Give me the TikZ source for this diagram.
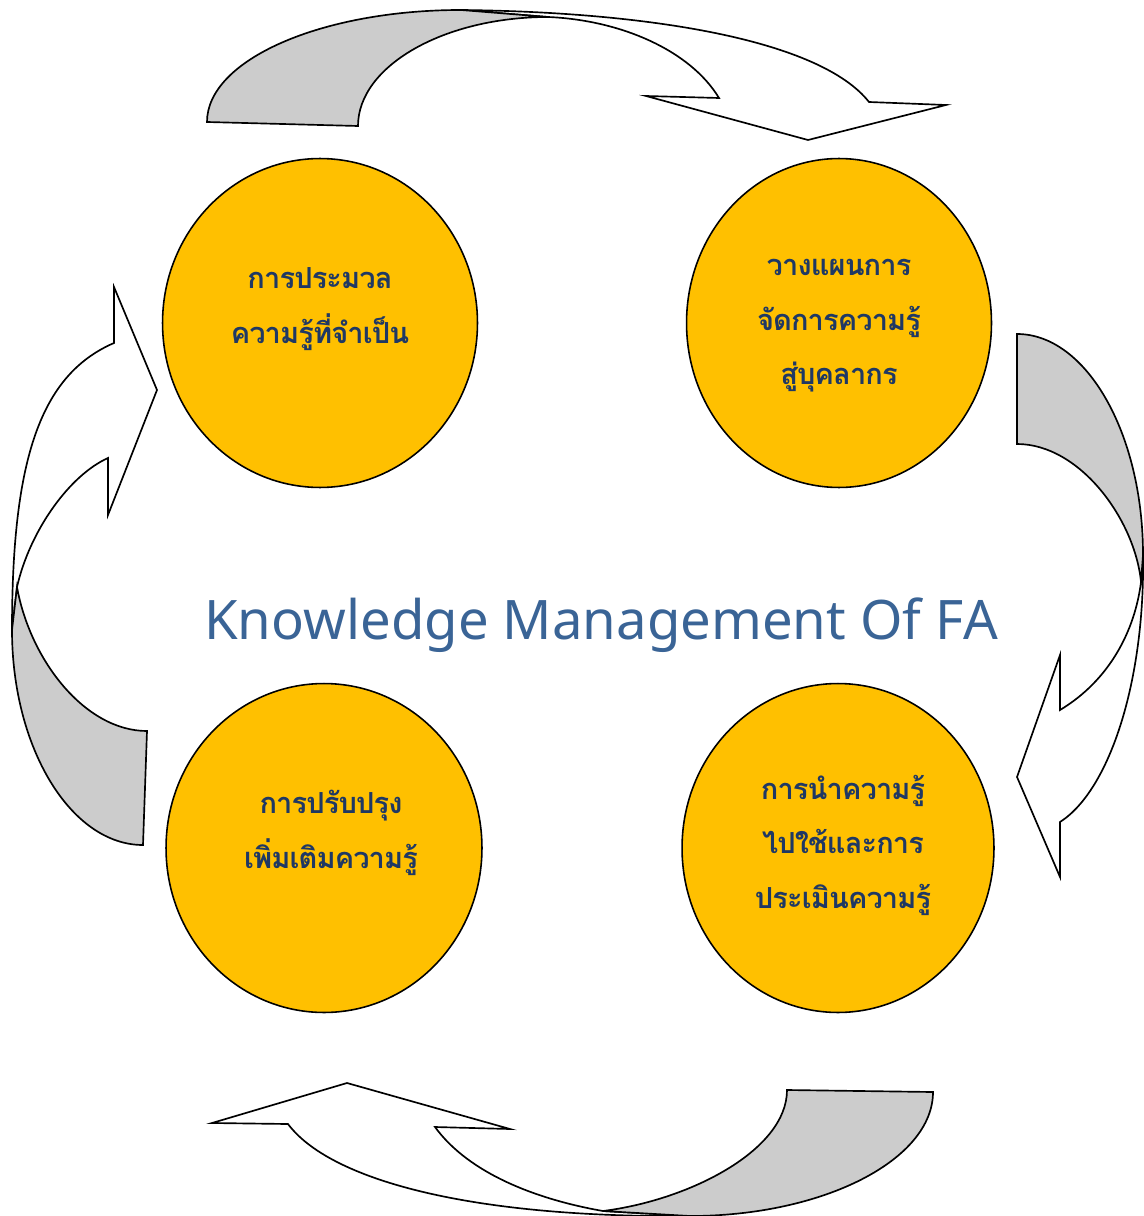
\documentclass[tikz,border=0pt]{standalone}
\usepackage{fontspec}
\newfontfamily\thaifont[Script=Thai, LetterSpace=-3]{Loma}
\newfontfamily\titlefont{Noto Sans}
\usetikzlibrary{shapes.geometric}
\definecolor{kmgold}{HTML}{FFC000}
\definecolor{kmnavy}{HTML}{1F3864}
\definecolor{kmblue}{HTML}{3A6496}
\definecolor{kmgray}{HTML}{CCCCCC}

\begin{document}
\begin{tikzpicture}[x=0.02cm, y=-0.02cm]
	\tikzstyle{stage} = [draw=black, fill=kmgold, ellipse, inner sep=0pt, line width=0.9pt]
	\tikzstyle{stagetext} = [text=kmnavy, align=center, font=\thaifont\bfseries\fontsize{16.5}{31}\selectfont]
	\tikzstyle{front} = [draw=black, fill=white, line width=0.95pt, line join=miter]
	\tikzstyle{back} = [draw=black, fill=kmgray, line width=0.95pt, line join=miter]
	
	\useasboundingbox (0,0) rectangle (1143,1216);
	
	% top arrow
	\path[front] (461,10) .. controls (650,12) and (820,40) .. (869,102)
		-- (946,105) -- (808,140) -- (646,96) -- (719,98)
		.. controls (690,50) and (620,20) .. (548,17) -- cycle;
	\path[back] (207,122) -- (358,126) .. controls (358,66) and (444,17) .. (548,17)
		-- (461,10) .. controls (321,10) and (207,60) .. cycle;
	
	% right arrow
	\path[front] (1143,555) .. controls (1145,680) and (1110,790) .. (1060,822)
		-- (1060,877) -- (1017,777) -- (1060,655) -- (1060,710)
		.. controls (1110,680) and (1135,630) .. (1141,582) -- cycle;
	\path[back] (1017,334) -- (1017,444) .. controls (1080,444) and (1135,520) .. (1141,582)
		-- (1143,555) .. controls (1143,433) and (1086,334) .. cycle;
	
	% bottom arrow
	\path[front] (690,1216) .. controls (470,1218) and (330,1180) .. (288,1124)
		-- (212,1123) -- (347,1083) -- (510,1129) -- (435,1127)
		.. controls (470,1175) and (540,1200) .. (603,1211) -- cycle;
	\path[back] (933,1092) -- (787,1090) .. controls (787,1150) and (690,1200) .. (603,1211)
		-- (690,1216) .. controls (823,1216) and (933,1160) .. cycle;
	
	% left arrow
	\path[front] (12,630) .. controls (12,460) and (40,375) .. (114,343)
		-- (114,287) -- (157,390) -- (108,515) -- (108,458)
		.. controls (70,475) and (30,530) .. (17,587) -- cycle;
	\path[back] (143,845) -- (147,731) .. controls (85,731) and (30,660) .. (17,587)
		-- (12,630) .. controls (12,748) and (71,845) .. cycle;
	
	\node[stage, minimum width=6.30cm, minimum height=6.58cm] at (320,323)   (collect) {};
	\node[stage, minimum width=6.10cm, minimum height=6.58cm] at (839,323)   (plan)    {};
	\node[stage, minimum width=6.24cm, minimum height=6.58cm] at (838,848)   (apply)   {};
	\node[stage, minimum width=6.32cm, minimum height=6.58cm] at (324,848)   (improve) {};
	
	\node[stagetext] at (320,309) (collecttext) {การประมวล\\ความรู้ที่จำเป็น};
	\node[stagetext] at (839,326) (plantext)    {วางแผนการ\\จัดการความรู้\\สู่บุคลากร};
	\node[stagetext] at (843,845) (applytext)   {การนำความรู้\\ไปใช้และการ\\ประเมินความรู้};
	\node[stagetext] at (331,833) (improvetext) {การปรับปรุง\\เพิ่มเติมความรู้};
	
	\node[text=kmblue, font=\titlefont\fontsize{31}{36}\selectfont] at (601,625) (title) {Knowledge Management Of FA};
\end{tikzpicture}
\end{document}
